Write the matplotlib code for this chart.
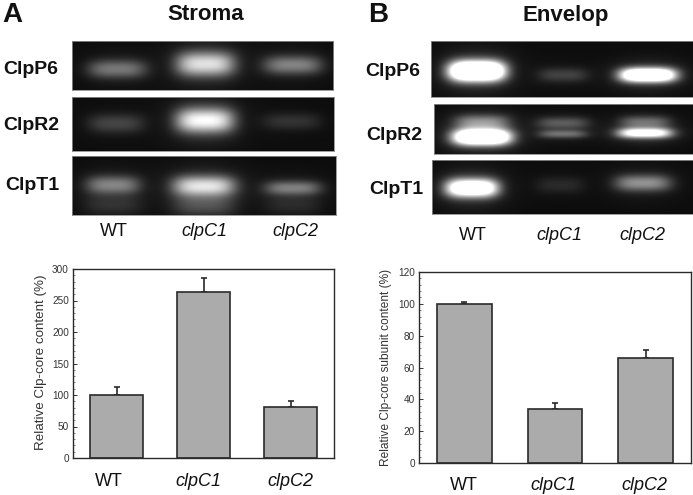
import numpy as np
import matplotlib
matplotlib.use("Agg")
import matplotlib.pyplot as plt

plt.rcParams['font.family'] = ['Liberation Sans', 'DejaVu Sans']

W, H = 693, 495

# Bar chart values
genotypes = ['WT', 'clpC1', 'clpC2']
stroma_vals = [100, 263, 81]
stroma_err = [12, 22, 9]
envelop_vals = [100, 34, 66]
envelop_err = [1, 4, 5]

# Gel bands: (centre x, centre y, half width, half height, brightness), in picture pixels
stroma_p6 = [(117, 69, 29, 9, 0.36), (205, 64, 29, 12, 0.72), (292, 65, 29, 9, 0.40)]
stroma_r2 = [(116, 124, 28, 9, 0.19), (205, 121, 29, 12, 0.82), (292, 122, 29, 8, 0.13)]
stroma_t1 = [(113, 185, 27, 9, 0.40), (204, 186, 31, 10, 0.72), (293, 188, 28, 7, 0.38),
             (113, 205, 29, 10, 0.11), (204, 205, 31, 11, 0.20), (293, 205, 28, 10, 0.09)]
envelop_p6 = [(477, 71, 28, 10, 1.8), (563, 75, 25, 7, 0.18), (648, 75, 28, 7, 1.5)]
envelop_r2 = [(482, 137, 29, 8, 1.6), (482, 122, 27, 7, 0.40), (563, 134, 24, 4, 0.32),
              (563, 123, 26, 6, 0.26), (645, 133, 27, 5, 1.0), (645, 122, 25, 6, 0.30)]
envelop_t1 = [(472, 188, 26, 9, 1.3), (560, 185, 24, 8, 0.10), (643, 183, 28, 8, 0.45)]

# Gel boxes: left, top, right, bottom
stroma_boxes = [(72, 41, 333, 90), (72, 97, 334, 151), (72, 156, 336, 215)]
envelop_boxes = [(431, 41, 693, 97), (434, 104, 693, 154), (432, 160, 693, 214)]


def px_axes(fig, left, top, right, bottom):
    return fig.add_axes([left / W, 1 - bottom / H, (right - left) / W, (bottom - top) / H])


def draw_gel(fig, box, bands):
    left, top, right, bottom = box
    ys, xs = np.mgrid[top:bottom, left:right] + 0.5
    img = np.full(xs.shape, 0.05)
    for cx, cy, hw, hh, b in bands:
        dx, dy = (xs - cx) / hw, (ys - cy) / hh
        img += b * np.exp(-np.abs(dx) ** 3.5 - np.abs(dy) ** 2.2)
        # soft glow around each band
        img += 0.16 * min(b, 1) * np.exp(-(dx / 1.3) ** 2 - (dy / 2.2) ** 2)
    ax = px_axes(fig, left, top, right, bottom)
    ax.imshow(np.clip(img, 0, 1), cmap='gray', vmin=0, vmax=1, aspect='auto', interpolation='bilinear')
    ax.set_xticks([])
    ax.set_yticks([])
    for s in ax.spines.values():
        s.set_color('#8c8c8c')
        s.set_linewidth(0.6)


def draw_bars(fig, box, vals, err, ymax, ystep, ylabel, label_x, label_y, label_size):
    ax = px_axes(fig, *box)
    x = np.arange(len(vals))
    ax.bar(x, vals, width=0.6, color='#ababab', edgecolor='#2a2a2a', linewidth=1.2, zorder=2)
    ax.errorbar(x, vals, yerr=[np.zeros(len(err)), err], fmt='none', ecolor='#2a2a2a',
                elinewidth=1.2, capsize=2.5, capthick=1.2, zorder=1)
    ax.set_xlim(-0.5, 2.5)
    ax.set_ylim(0, ymax)
    ax.set_xticks([])
    ax.set_yticks(np.arange(0, ymax + 1, ystep))
    ax.set_yticks(np.arange(0, ymax + 1, ystep / 5), minor=True)
    ax.tick_params(axis='y', which='major', direction='in', length=3, width=0.7, labelsize=7.2,
                   pad=3, colors='#333333')
    ax.tick_params(axis='y', which='minor', direction='in', length=1.5, width=0.5, colors='#555555')
    for s in ax.spines.values():
        s.set_color('#2a2a2a')
        s.set_linewidth(1.0)
    fig.text(label_x / W, 1 - label_y / H, ylabel, rotation=90, ha='center', va='center',
             fontsize=label_size, color='#333333')
    return ax


def label(fig, x, y, s, size, **kw):
    fig.text(x / W, 1 - y / H, s, fontsize=size, ha='center', va='center', color='#111111', **kw)


fig = plt.figure(figsize=(W / 100, H / 100), dpi=100)

for box, bands in zip(stroma_boxes, [stroma_p6, stroma_r2, stroma_t1]):
    draw_gel(fig, box, bands)
for box, bands in zip(envelop_boxes, [envelop_p6, envelop_r2, envelop_t1]):
    draw_gel(fig, box, bands)

draw_bars(fig, (73, 269, 334, 458), stroma_vals, stroma_err, 300, 50,
          'Relative Clp-core content (%)', 41, 362, 9.6)
draw_bars(fig, (419, 272, 691, 463), envelop_vals, envelop_err, 120, 20,
          'Relative Clp-core subunit content (%)', 386, 367, 8.6)

# Panel letters and titles
fig.text(12 / W, 1 - 22 / H, 'A', fontsize=20, fontweight='bold', ha='center', va='baseline', color='#111111')
fig.text(378.5 / W, 1 - 22 / H, 'B', fontsize=20, fontweight='bold', ha='center', va='baseline', color='#111111')
label(fig, 206, 15, 'Stroma', 16, fontweight='bold')
label(fig, 566, 16, 'Envelop', 16, fontweight='bold')

# Gel row names
for y, name, x in [(70, 'ClpP6', 31), (125, 'ClpR2', 31), (186, 'ClpT1', 32)]:
    label(fig, x, y, name, 14, fontweight='bold')
for y, name, x in [(71, 'ClpP6', 393), (136, 'ClpR2', 394), (190, 'ClpT1', 396)]:
    label(fig, x, y, name, 14, fontweight='bold')

# Genotype labels under each gel and chart
styles = ['normal', 'italic', 'italic']
for name, st, x1, x2, x3, x4 in zip(genotypes, styles, [114, 204, 295], [109, 198, 290],
                                    [473, 559, 642], [464, 553, 644]):
    label(fig, x1, 232, name, 13, style=st)
    label(fig, x2, 482, name, 13, style=st)
    label(fig, x3, 235, name, 13, style=st)
    label(fig, x4, 485, name, 13, style=st)

fig.savefig('out.png', dpi=100)
